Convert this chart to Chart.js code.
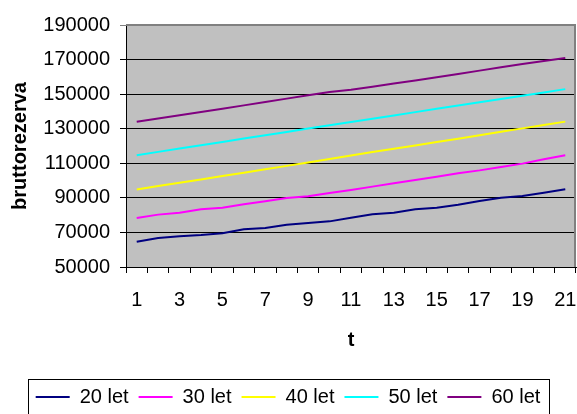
<!DOCTYPE html>
<html>
<head>
<meta charset="utf-8">
<script src="https://cdn.jsdelivr.net/npm/chart.js@4"></script>
<style>
    html, body { margin: 0; padding: 0; background: #fff; }
    #wrap { width: 577px; height: 414px; position: relative; }
</style>
</head>
<body>
<div id="wrap"><canvas id="chartReserve"></canvas></div>
<script>
// ===== Данные =====
const years = ['1','2','3','4','5','6','7','8','9','10','11','12','13','14','15','16','17','18','19','20','21'];
const seriesNames = ['20 let', '30 let', '40 let', '50 let', '60 let'];
const seriesColors = ['#000080', '#FF00FF', '#FFFF00', '#00FFFF', '#800080'];

const let20 = [64600, 66800, 67800, 68500, 69500, 71800, 72600, 74500, 75500, 76400, 78500,
               80500, 81400, 83400, 84300, 86000, 88200, 90100, 91100, 93000, 95000];
const let30 = [78400, 80300, 81400, 83400, 84300, 86300, 88000, 89900, 90900, 92800, 94600,
               96500, 98400, 100300, 102200, 104200, 105900, 107900, 109800, 112300, 114700];
const let40 = [94900, 96800, 98700, 100600, 102600, 104500, 106500, 108500, 110500, 112500, 114500,
               116500, 118400, 120300, 122300, 124200, 126200, 128200, 130200, 132100, 134100];
const let50 = [114700, 116600, 118500, 120400, 122300, 124300, 126200, 128100, 130100, 132000, 133900,
               135800, 137700, 139600, 141500, 143400, 145300, 147200, 149100, 151000, 152900];
const let60 = [134000, 135900, 137800, 139700, 141600, 143500, 145400, 147400, 149400, 151300, 152500,
               154300, 156100, 157900, 159800, 161700, 163600, 165500, 167400, 169200, 170900];

const yTicks = { min: 50000, max: 190000, step: 20000 };

// ===== Плагин: серый фон области графика и рамка =====
const plotAreaBg = {
    id: 'plotAreaBg',
    beforeDraw(chart) {
        const { ctx, chartArea: a } = chart;
        ctx.save();
        ctx.fillStyle = '#C0C0C0';
        ctx.fillRect(a.left, a.top, a.right - a.left, a.bottom - a.top);
        ctx.restore();
    },
    afterDatasetsDraw(chart) {
        const { ctx, chartArea: a } = chart;
        ctx.save();
        ctx.strokeStyle = '#808080';
        ctx.lineWidth = 2;
        ctx.beginPath();
        ctx.moveTo(a.left, a.top);
        ctx.lineTo(a.right - 1, a.top);
        ctx.lineTo(a.right - 1, a.bottom);
        ctx.stroke();
        ctx.restore();
    }
};

// ===== Плагин: рамка вокруг легенды =====
const legendFrame = {
    id: 'legendFrame',
    afterDraw(chart) {
        const boxes = chart.legend && chart.legend.legendHitBoxes;
        if (!boxes || !boxes.length) return;
        const first = boxes[0];
        const last = boxes[boxes.length - 1];
        const midY = first.top + first.height / 2;
        const { ctx } = chart;
        ctx.save();
        ctx.strokeStyle = '#000';
        ctx.lineWidth = 1;
        ctx.strokeRect(Math.round(first.left - 8) + 0.5, Math.round(midY - 18) + 0.5,
                       Math.round(last.left + last.width - first.left + 16), 60);
        ctx.restore();
    }
};

Chart.defaults.font.family = "'Liberation Sans', Arial, sans-serif";
Chart.defaults.font.size = 20;
Chart.defaults.color = '#000';

const datasets = [let20, let30, let40, let50, let60].map((vals, i) => ({
    label: seriesNames[i],
    data: vals,
    borderColor: seriesColors[i],
    backgroundColor: seriesColors[i],
    borderWidth: 2,
    pointRadius: 0,
    tension: 0
}));

const ctx = document.getElementById('chartReserve').getContext('2d');
const reserveChart = new Chart(ctx, {
    type: 'line',
    data: { labels: years, datasets: datasets },
    plugins: [plotAreaBg, legendFrame],
    options: {
        responsive: true,
        maintainAspectRatio: false,
        animation: false,
        layout: { padding: { left: 0, right: 1, top: 25, bottom: -3 } },
        plugins: {
            tooltip: { enabled: false },
            legend: {
                position: 'bottom',
                labels: {
                    usePointStyle: true,
                    pointStyle: 'line',
                    pointStyleWidth: 34,
                    padding: 10,
                    font: { size: 20 }
                }
            }
        },
        scales: {
            x: {
                offset: true,
                grid: {
                    offset: true,
                    drawOnChartArea: false,
                    drawTicks: true,
                    tickLength: 6,
                    color: '#000'
                },
                border: { color: '#000', width: 1 },
                ticks: {
                    autoSkip: false,
                    maxRotation: 0,
                    padding: 15,
                    callback: function(val, idx) {
                        return idx % 2 === 0 ? this.getLabelForValue(val) : '';
                    }
                },
                title: {
                    display: true,
                    text: 't',
                    font: { size: 20, weight: 'bold' },
                    padding: { top: 0, bottom: 25 }
                },
                afterFit(scale) {
                    scale.height = 110;
                    // отступ подписей не должен сужать область графика по ширине
                    scale.paddingLeft = 0;
                    scale.paddingRight = 0;
                }
            },
            y: {
                min: yTicks.min,
                max: yTicks.max,
                grid: {
                    tickLength: 6,
                    lineWidth: 1,
                    color: c => (c.tick && c.tick.value === yTicks.max) ? '#808080' : '#000'
                },
                border: { color: '#000', width: 1 },
                ticks: {
                    stepSize: yTicks.step,
                    padding: 10,
                    callback: v => String(v)
                },
                title: {
                    display: true,
                    text: 'bruttorezerva',
                    font: { size: 20, weight: 'bold' },
                    padding: { top: 8, bottom: 0 }
                },
                afterFit(scale) { scale.width = 126; }
            }
        }
    }
});
</script>
</body>
</html>
